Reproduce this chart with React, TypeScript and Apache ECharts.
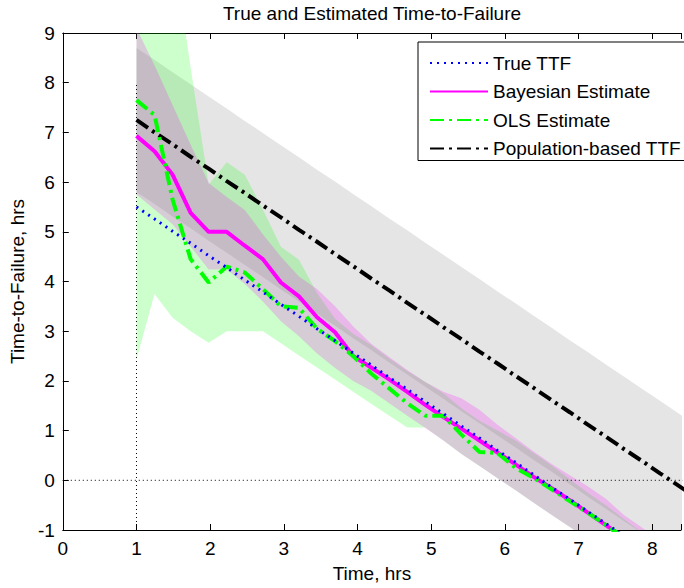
import React, { useEffect, useRef } from "react";
import * as echarts from "echarts";

// time grid (hrs)
const time = [1.0, 1.245, 1.49, 1.735, 1.98, 2.225, 2.47, 2.715, 2.96, 3.205, 3.45, 3.695, 3.94, 4.185, 4.43, 4.675, 4.92, 5.165, 5.41, 5.655, 5.9, 6.145, 6.39, 6.635, 6.88, 7.125, 7.37, 7.615, 7.86, 8.105, 8.6];

const trueTTF = [5.5, 5.26, 5.01, 4.77, 4.52, 4.28, 4.03, 3.79, 3.54, 3.3, 3.05, 2.81, 2.56, 2.32, 2.07, 1.83, 1.58, 1.34, 1.09, 0.85, 0.6, 0.36, 0.11, -0.14, -0.38, -0.63, -0.87, -1.12, null, null, null];
const bayesEst = [6.93, 6.62, 6.15, 5.38, 5.0, 5.0, 4.72, 4.45, 3.98, 3.7, 3.28, 2.98, 2.5, 2.27, 2.03, 1.78, 1.52, 1.27, 1.04, 0.8, 0.56, 0.32, 0.07, -0.16, -0.4, -0.65, -0.9, -1.15, null, null, null];
const olsEst = [7.65, 7.35, 5.65, 4.45, 3.98, 4.3, 4.18, 3.85, 3.5, 3.47, 3.05, 2.8, 2.5, 2.15, 1.85, 1.55, 1.3, 1.3, 0.92, 0.57, 0.55, 0.25, 0.05, -0.18, -0.42, -0.65, -0.9, -1.15, null, null, null];
const popTTF = [7.25, 7.0, 6.76, 6.51, 6.27, 6.02, 5.78, 5.53, 5.29, 5.04, 4.8, 4.55, 4.31, 4.06, 3.82, 3.57, 3.33, 3.08, 2.84, 2.59, 2.35, 2.1, 1.86, 1.61, 1.37, 1.12, 0.88, 0.63, 0.39, 0.14, -0.35];

// confidence bands
const popUpper = [8.7, 8.46, 8.21, 7.97, 7.72, 7.48, 7.23, 6.99, 6.74, 6.5, 6.25, 6.01, 5.76, 5.52, 5.27, 5.03, 4.78, 4.54, 4.29, 4.05, 3.8, 3.56, 3.31, 3.07, 2.82, 2.58, 2.33, 2.09, 1.84, 1.6, 1.1];
const popLower = [5.8, 5.56, 5.31, 5.07, 4.82, 4.58, 4.33, 4.09, 3.84, 3.6, 3.35, 3.11, 2.86, 2.62, 2.37, 2.13, 1.88, 1.64, 1.39, 1.15, 0.9, 0.66, 0.41, 0.17, -0.08, -0.33, -0.57, -0.82, -1.06, -1.31, -1.8];
const olsUpper = [14, 13, 10.8, 8.3, 5.95, 6.4, 6.15, 5.45, 4.7, 4.44, 3.77, 3.25, 2.95, 2.72, 2.45, 2.2, 1.98, 1.75, 1.45, 1.2, 1.0, 0.8, 0.55, 0.3, 0.02, -0.25, -0.5, -0.78, -1.05, null, null];
const olsLower = [2.43, 3.75, 3.27, 3.0, 2.77, 3.0, 3.0, 3.0, 2.76, 2.51, 2.27, 2.03, 1.78, 1.54, 1.3, 1.06, 1.06, 0.8, 0.53, 0.29, 0.04, -0.2, -0.45, -0.7, -0.94, -1.19, -1.44, -1.69, -1.94, null, null];
const bayesUpper = [9.1, 8.35, 7.55, 6.75, 5.98, 5.7, 5.44, 4.95, 4.5, 4.1, 3.85, 3.5, 3.1, 2.75, 2.48, 2.22, 1.98, 1.78, 1.65, 1.42, 1.12, 0.85, 0.58, 0.33, 0.1, -0.12, -0.37, -0.7, -0.95, -1.2, null];
const bayesLower = [5.75, 5.45, 5.15, 4.7, 4.24, 4.24, 3.95, 3.6, 3.2, 2.9, 2.55, 2.26, 2.0, 1.8, 1.55, 1.3, 1.05, 0.8, 0.53, 0.29, 0.04, -0.2, -0.45, -0.7, -0.94, -1.19, -1.44, -1.69, -1.94, -2.19, null];

// reference lines
const refTime = 1;
const refTimeTop = 8;
const refZero = 0;

const xTicks = [0, 1, 2, 3, 4, 5, 6, 7, 8];

const FONT = "'Liberation Sans', Arial, Helvetica, sans-serif";

function pts(vals: (number | null)[]) {
  const out: number[][] = [];
  time.forEach((t, i) => {
    const v = vals[i];
    if (v !== null && v !== undefined) out.push([t, v]);
  });
  return out;
}

function band(name: string, lower: (number | null)[], upper: (number | null)[], fill: string) {
  return {
    type: "custom",
    name,
    silent: true,
    clip: true,
    z: 1,
    data: [[time[0], 0]],
    renderItem: (_params: any, api: any) => {
      const top: number[][] = [];
      const bot: number[][] = [];
      time.forEach((t, i) => {
        const lo = lower[i];
        const hi = upper[i];
        if (lo === null || hi === null || lo === undefined || hi === undefined) return;
        top.push(api.coord([t, hi]));
        bot.push(api.coord([t, lo]));
      });
      return {
        type: "polygon",
        shape: { points: top.concat(bot.reverse()) },
        style: { fill, stroke: "none" },
      };
    },
  };
}

export default function App() {
  const ref = useRef<HTMLDivElement>(null);
  useEffect(() => {
    if (!ref.current) return;
    const chart = echarts.init(ref.current, undefined, { renderer: "svg" });
    const axisCommon = {
      type: "value",
      axisLine: { show: true, onZero: false, lineStyle: { color: "#000", width: 1 } },
      axisTick: { show: true, inside: true, length: 6, lineStyle: { color: "#000" } },
      splitLine: { show: false },
    };
    chart.setOption({
      animation: false,
      backgroundColor: "#fff",
      textStyle: { fontFamily: FONT },
      grid: { left: 61, right: 0, top: 33, bottom: 57, containLabel: false },
      graphic: [
        {
          type: "text",
          x: 372,
          y: 13,
          style: {
            text: "True and Estimated Time-to-Failure",
            fontSize: 19,
            fontFamily: FONT,
            fill: "#000",
            align: "center",
            verticalAlign: "middle",
          },
        },
      ],
      legend: {
        data: ["True TTF", "Bayesian Estimate", "OLS Estimate", "Population-based TTF"],
        orient: "vertical",
        left: 418,
        top: 42,
        padding: [11, 12, 2, 11],
        itemWidth: 58,
        itemHeight: 20,
        itemGap: 8.5,
        backgroundColor: "#fff",
        borderColor: "#000",
        borderWidth: 1,
        borderRadius: 0,
        selectedMode: false,
        itemStyle: { opacity: 0, borderWidth: 0 },
        textStyle: { fontSize: 19, lineHeight: 20, color: "#000", fontFamily: FONT },
        z: 20,
      },
      xAxis: [
        {
          ...axisCommon,
          position: "bottom",
          min: 0,
          max: 8.39,
          interval: 1,
          axisLabel: {
            fontSize: 19,
            color: "#000",
            margin: 9,
            fontFamily: FONT,
            formatter: (v: number) => (xTicks.includes(v) ? String(v) : ""),
          },
          name: "Time, hrs",
          nameLocation: "middle",
          nameGap: 34,
          nameTextStyle: { fontSize: 19, color: "#000", fontFamily: FONT },
        },
        {
          ...axisCommon,
          position: "top",
          min: 0,
          max: 8.39,
          interval: 1,
          axisLabel: { show: false },
        },
      ],
      yAxis: [
        {
          ...axisCommon,
          position: "left",
          min: -1,
          max: 9,
          interval: 1,
          axisLabel: { fontSize: 19, color: "#000", margin: 8, fontFamily: FONT },
          name: "Time-to-Failure, hrs",
          nameLocation: "middle",
          nameGap: 32,
          nameTextStyle: { fontSize: 19, color: "#000", fontFamily: FONT },
        },
      ],
      series: [
        band("popBand", popLower, popUpper, "rgba(0,0,0,0.1)"),
        band("olsBand", olsLower, olsUpper, "rgba(0,255,0,0.2)"),
        band("bayesBand", bayesLower, bayesUpper, "rgba(255,0,255,0.2)"),
        {
          type: "line",
          name: "refT",
          data: [[refTime, -1], [refTime, refTimeTop]],
          symbol: "none",
          silent: true,
          z: 2,
          lineStyle: { color: "#000", width: 1, type: [1, 3] },
        },
        {
          type: "line",
          name: "refZ",
          data: [[0, refZero], [8.6, refZero]],
          symbol: "none",
          silent: true,
          z: 2,
          lineStyle: { color: "#000", width: 1, type: [1, 3] },
        },
        {
          type: "line",
          name: "Population-based TTF",
          data: pts(popTTF),
          symbol: "none",
          color: "#000000",
          z: 3,
          lineStyle: { color: "#000000", width: 4, type: [14, 5, 3, 5] },
        },
        {
          type: "line",
          name: "Bayesian Estimate",
          data: pts(bayesEst),
          symbol: "none",
          color: "#ff00ff",
          z: 3,
          lineStyle: { color: "#ff00ff", width: 4, type: "solid" },
        },
        {
          type: "line",
          name: "OLS Estimate",
          data: pts(olsEst),
          symbol: "none",
          color: "#00ff00",
          z: 4,
          lineStyle: { color: "#00ff00", width: 4, type: [14, 5, 3, 5] },
        },
        {
          type: "line",
          name: "True TTF",
          data: pts(trueTTF),
          symbol: "none",
          color: "#0000ff",
          z: 5,
          lineStyle: { color: "#0000ff", width: 3, type: [2, 5] },
        },
      ],
    });
    return () => chart.dispose();
  }, []);
  return (
    <div
      ref={ref}
      style={{ position: "absolute", left: 0, top: 0, width: 684, height: 588, background: "#fff" }}
    />
  );
}
